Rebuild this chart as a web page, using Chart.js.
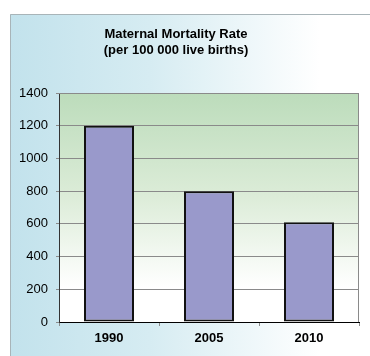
<!DOCTYPE html>
<html lang="en">
<head>
    <meta charset="UTF-8">
    <title>Maternal Mortality Rate</title>
    <script src="https://cdn.jsdelivr.net/npm/chart.js"></script>
    <style>
        html, body { margin: 0; padding: 0; background: #fff; }
        #wrap { width: 370px; height: 356px; }
    </style>
</head>
<body>
    <div id="wrap"><canvas id="chart" width="370" height="356"></canvas></div>
    <script>
        const years = ["1990", "2005", "2010"];
        const mmr = [1200, 800, 610];
        const titleLines = ["Maternal Mortality Rate", "(per 100 000 live births)"];
        const yMax = 1400;
        const yStep = 200;

        // backgrounds, plot frame and title
        const decor = {
            id: "decor",
            beforeDraw(chart) {
                const c = chart.ctx, a = chart.chartArea;
                c.save();
                let g = c.createLinearGradient(10, 0, 320, 0);
                g.addColorStop(0, "#c2e2ec");
                g.addColorStop(0.45, "#d6ecf2");
                g.addColorStop(1, "#ffffff");
                c.fillStyle = g;
                c.fillRect(10, 14, 360, 342);
                c.strokeStyle = "#a8b4b8";
                c.lineWidth = 1;
                c.beginPath();
                c.moveTo(10.5, 356);
                c.lineTo(10.5, 14.5);
                c.lineTo(370, 14.5);
                c.stroke();

                g = c.createLinearGradient(0, a.top, 0, a.bottom);
                g.addColorStop(0, "#bcdcbb");
                g.addColorStop(0.45, "#dcecd8");
                g.addColorStop(0.85, "#ffffff");
                g.addColorStop(1, "#ffffff");
                c.fillStyle = g;
                c.fillRect(a.left, a.top, a.right - a.left, a.bottom - a.top);

                c.fillStyle = "#000";
                c.font = "bold 13px 'Liberation Sans', Arial, sans-serif";
                c.textAlign = "center";
                c.textBaseline = "alphabetic";
                titleLines.forEach((t, i) => c.fillText(t, 176, 38 + i * 16));
                c.restore();
            },
            beforeDatasetsDraw(chart) {
                const c = chart.ctx, a = chart.chartArea;
                c.save();
                c.strokeStyle = "#8a8a8a";
                c.lineWidth = 1;
                c.beginPath();
                c.moveTo(a.left, a.top + 0.5);
                c.lineTo(a.right - 0.5, a.top + 0.5);
                c.lineTo(a.right - 0.5, a.bottom);
                c.stroke();
                c.restore();
            }
        };

        new Chart(document.getElementById("chart"), {
            type: "bar",
            data: {
                labels: years,
                datasets: [{
                    data: mmr,
                    backgroundColor: "#9999cb",
                    borderColor: "#111111",
                    borderWidth: 2,
                    borderSkipped: false,
                    barPercentage: 0.5,
                    categoryPercentage: 1.0
                }]
            },
            options: {
                responsive: false,
                animation: false,
                events: [],
                layout: { padding: { top: 93, right: 11, bottom: 0, left: 0 } },
                plugins: {
                    legend: { display: false },
                    title: { display: false },
                    tooltip: { enabled: false }
                },
                scales: {
                    x: {
                        offset: true,
                        grid: {
                            offset: true,
                            drawOnChartArea: false,
                            tickLength: 4,
                            color: "#8a8a8a"
                        },
                        border: { color: "#000", width: 1 },
                        ticks: {
                            color: "#000",
                            padding: 5,
                            font: { family: "'Liberation Sans', Arial, sans-serif", size: 13, weight: "bold" }
                        },
                        afterFit(s) { s.height = 34; }
                    },
                    y: {
                        min: 0,
                        max: yMax,
                        ticks: {
                            stepSize: yStep,
                            color: "#000",
                            padding: 8,
                            font: { family: "'Liberation Sans', Arial, sans-serif", size: 13 },
                            callback: v => String(v)
                        },
                        grid: { color: "#8a8a8a", tickLength: 3 },
                        border: { color: "#333", width: 1 },
                        afterFit(s) { s.width = 59; }
                    }
                }
            },
            plugins: [decor]
        });
    </script>
</body>
</html>
